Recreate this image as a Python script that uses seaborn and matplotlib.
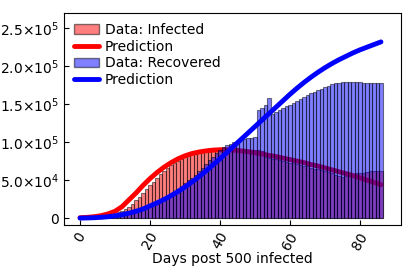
import numpy as np
import pandas as pd
import matplotlib
matplotlib.use("Agg")
import matplotlib.pyplot as plt
from matplotlib.ticker import FuncFormatter
from matplotlib.patches import Patch
from matplotlib.lines import Line2D
import seaborn as sns

# ---- data (values in thousands) ----
days = list(range(87))
infected_k = [0.5, 0.6, 0.8, 1.0, 1.3, 1.7, 2.2, 2.8, 3.6, 4.6,
              5.8, 7.5, 9.5, 12, 15, 19, 23.5, 28, 33, 38,
              43, 48, 53, 57.5, 62, 66, 69.5, 72.5, 75.5, 78,
              80.5, 82.5, 84.5, 86, 87.5, 88.5, 89.5, 90.5, 91, 91.5,
              92, 92, 92.5, 92, 91.5, 91.5, 91, 90.5, 90, 90,
              89.5, 89, 88.5, 80, 79, 78, 77.5, 76.5, 75.5, 74.5,
              73, 72, 71, 70, 69, 68, 66.5, 65, 64, 63,
              62, 60.5, 59, 57, 55.5, 54, 55, 57, 58.5, 59,
              59.5, 60, 61, 61.5, 62, 62, 62]
recovered_k = [0, 0.05, 0.1, 0.2, 0.3, 0.5, 0.7, 1.0, 1.4, 1.9,
               2.5, 3.2, 4.0, 5.0, 6.2, 7.5, 9.0, 10.5, 12, 13.5,
               15.5, 17.5, 20, 22.5, 25.5, 28.5, 31.5, 34.5, 38, 42,
               46, 49.5, 53, 57, 61.5, 66, 71, 76, 81, 86,
               90, 93.5, 96, 98, 100, 101.5, 103, 104, 105, 106,
               107, 142, 145.5, 148.5, 157.5, 137.5, 139.5, 142, 144.5, 147,
               149.5, 152, 154.5, 157, 159.5, 162, 164.5, 166.5, 168.5, 170.5,
               172.5, 174.5, 176.5, 178, 178.5, 179, 179, 179.5, 179.5, 179.5,
               179, 178.5, 178.5, 178.5, 178.5, 178.5, 178.5]

pred_days = list(range(0, 87, 2))
pred_infected_k = [0.5, 1.0, 1.8, 3.2, 5.5, 9, 15, 24, 33, 43,
                   52, 60, 67, 73, 78, 82, 85, 87, 88.5, 89.5,
                   90, 90, 89.5, 88.5, 87.5, 86, 84.5, 82.5, 81, 79,
                   77, 75, 73, 70.5, 68.5, 66, 63.5, 61, 58.5, 56,
                   53, 50, 47, 44]
pred_recovered_k = [0, 0.2, 0.5, 1.0, 1.8, 3, 4.5, 6.5, 9, 12,
                    16, 20, 24.5, 29.5, 35, 41, 47.5, 54.5, 62, 70,
                    78, 86.5, 95, 103.5, 112, 120.5, 129, 137.5, 146, 154.5,
                    163, 171, 178.5, 185.5, 192, 198, 203.5, 208.5, 213, 217.5,
                    221.5, 225, 228.5, 232]

ytick_vals = [0, 5e4, 1e5, 1.5e5, 2e5, 2.5e5]
xtick_vals = [0, 20, 40, 60, 80]

bars = pd.DataFrame({"day": days,
                     "infected": np.array(infected_k) * 1000,
                     "recovered": np.array(recovered_k) * 1000})
pred = pd.DataFrame({"day": pred_days,
                     "infected": np.array(pred_infected_k) * 1000,
                     "recovered": np.array(pred_recovered_k) * 1000})

sns.set_style("ticks", {"xtick.direction": "in", "ytick.direction": "in",
                        "axes.edgecolor": "black", "xtick.color": "black",
                        "ytick.color": "black", "text.color": "black",
                        "axes.labelcolor": "black"})
plt.rcParams["font.family"] = ["DejaVu Sans"]

fig = plt.figure(figsize=(4.15, 2.77), dpi=100)
ax = fig.add_axes([0.154, 0.188, 0.812, 0.765])

sns.barplot(data=bars, x="day", y="infected", native_scale=True, width=1.0,
            color="red", alpha=0.5, saturation=1, edgecolor="black",
            linewidth=0.8, ax=ax, errorbar=None, zorder=1)
sns.lineplot(data=pred, x="day", y="infected", color="red", lw=3.5, ax=ax,
             zorder=1.5)
sns.barplot(data=bars, x="day", y="recovered", native_scale=True, width=1.0,
            color="blue", alpha=0.5, saturation=1, edgecolor="black",
            linewidth=0.8, ax=ax, errorbar=None, zorder=1.7)
sns.lineplot(data=pred, x="day", y="recovered", color="blue", lw=3.5, ax=ax,
             zorder=2.5)

ax.set_xlim(-4.6, 91.7)
ax.set_ylim(-9000, 2.7e5)
ax.set_xticks(xtick_vals)
ax.set_yticks(ytick_vals)


def yfmt(v, pos):
    if v == 0:
        return "0"
    exp = int(np.floor(np.log10(abs(v))))
    mant = v / 10 ** exp
    return f"{mant:.1f}×10$^{{{exp}}}$"


ax.yaxis.set_major_formatter(FuncFormatter(yfmt))
ax.tick_params(axis="both", labelsize=10, direction="in", length=3.5)
plt.setp(ax.get_xticklabels(), rotation=60)
ax.set_xlabel("Days post 500 infected", fontsize=10, labelpad=0)
ax.set_ylabel("")
for s in ax.spines.values():
    s.set_visible(True)
    s.set_color("black")

handles = [Patch(facecolor="red", alpha=0.5, edgecolor="black"),
           Line2D([], [], color="red", lw=3.5),
           Patch(facecolor="blue", alpha=0.5, edgecolor="black"),
           Line2D([], [], color="blue", lw=3.5)]
labels = ["Data: Infected", "Prediction", "Data: Recovered", "Prediction"]
ax.legend(handles, labels, loc="upper left", frameon=False, fontsize=10,
          borderaxespad=0.3, labelspacing=0.2, handlelength=1.8,
          handletextpad=0.45)

fig.savefig("out.png", dpi=100)
